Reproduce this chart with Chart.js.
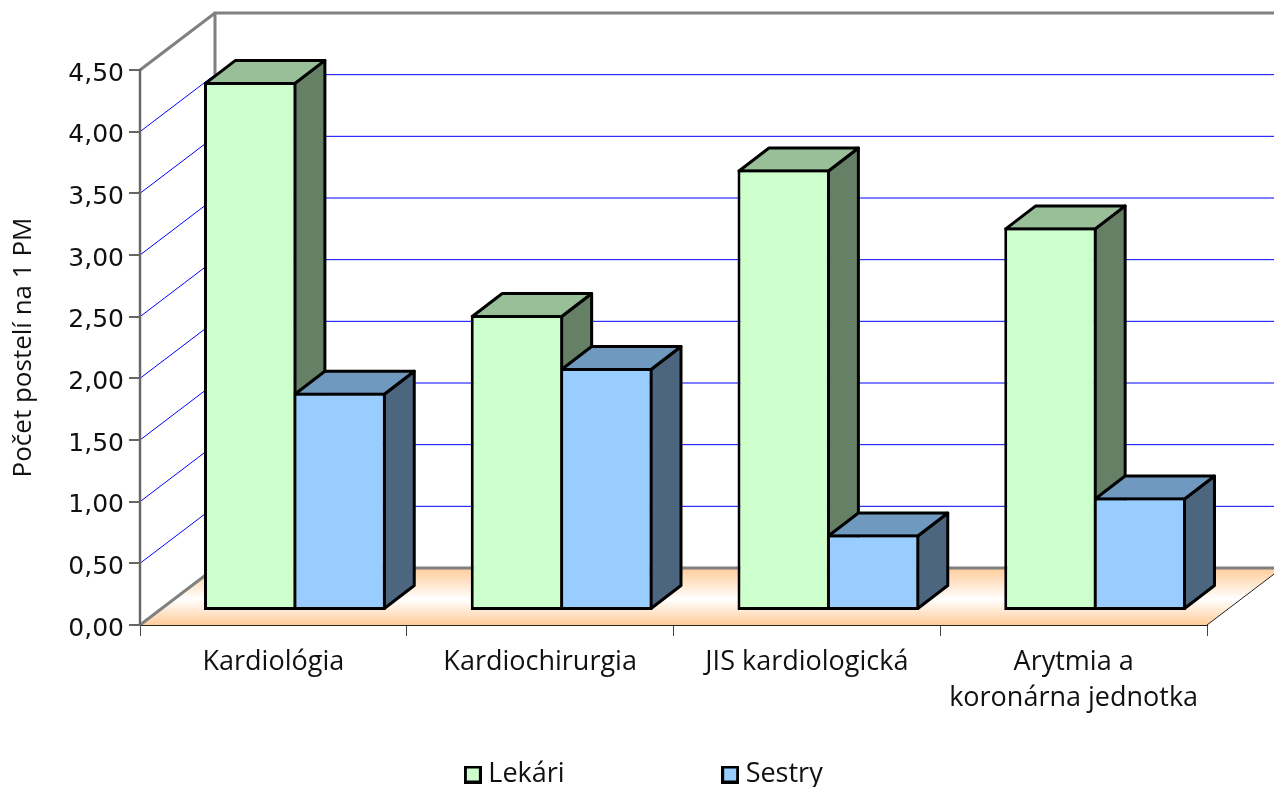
<!DOCTYPE html>
<html>
<head>
<meta charset="utf-8">
<style>html,body{margin:0;padding:0;background:#fff;overflow:hidden}#w{width:1274px;height:787px}</style>
<script src="https://cdn.jsdelivr.net/npm/chart.js@4"></script>
</head>
<body>
<div id="w"><canvas id="c" width="1274" height="787"></canvas></div>
<script>
const categories = ["Kardiológia", "Kardiochirurgia", "JIS kardiologická", ["Arytmia a", "koronárna jednotka"]];
const lekari = [4.29, 2.40, 3.58, 3.11];
const sestry = [1.77, 1.97, 0.62, 0.92];
const seriesNames = ["Lekári", "Sestry"];
const yAxisTitle = "Počet postelí na 1 PM";

const WALL = {dx: 75, dy: -57};
const BAR_OFFSET = {dx: 21.5, dy: -14};
const BAR_DEPTH = {dx: 30, dy: -23};
const FILLS = ['#CCFFCC', '#99CCFF'];
const SHADES = [{top: '#99BF99', side: '#668066'}, {top: '#7099BF', side: '#4D6680'}];
const LEGEND_PAD = 163.5;
const BW = 3;

function poly(ctx, pts, fill, stroke, lw) {
  ctx.beginPath();
  pts.forEach((p, i) => i ? ctx.lineTo(p[0], p[1]) : ctx.moveTo(p[0], p[1]));
  ctx.closePath();
  if (fill) { ctx.fillStyle = fill; ctx.fill(); }
  if (stroke) { ctx.strokeStyle = stroke; ctx.lineWidth = lw; ctx.lineJoin = 'round'; ctx.stroke(); }
}
function line(ctx, pts, color, lw) {
  ctx.beginPath();
  pts.forEach((p, i) => i ? ctx.lineTo(p[0], p[1]) : ctx.moveTo(p[0], p[1]));
  ctx.strokeStyle = color; ctx.lineWidth = lw; ctx.stroke();
}
function legendSwatch(fill) {
  const c = document.createElement('canvas');
  c.width = 18; c.height = 18;
  const g = c.getContext('2d');
  g.fillStyle = fill; g.fillRect(0, 0, 18, 18);
  g.strokeStyle = '#000'; g.lineWidth = 3; g.strokeRect(1.5, 1.5, 15, 15);
  return c;
}

const walls3d = {
  id: 'walls3d',
  afterLayout(chart) {
    const lg = chart.legend;
    lg.left = 19.5; lg.right = 1274;
    lg.top = 761 - LEGEND_PAD; lg.bottom = 787;
    const y = chart.scales.y;
    y.getLabelItems(chart.chartArea).forEach(it => {
      it.options.translation = [it.options.translation[0], it.options.translation[1] + 4];
    });
  },
  beforeDraw(chart) {
    const {ctx, scales: {x, y}} = chart;
    const L = x.left, R = x.right, Y0 = y.getPixelForValue(0), T = y.getPixelForValue(4.5);
    const d = WALL;
    ctx.save();
    const g = ctx.createLinearGradient(0, Y0 + d.dy, 0, Y0);
    g.addColorStop(0, '#FFCC99'); g.addColorStop(0.55, '#FFFFFF'); g.addColorStop(1, '#FFCC99');
    poly(ctx, [[L, Y0], [R, Y0], [R + d.dx, Y0 + d.dy], [L + d.dx, Y0 + d.dy]], g);
    line(ctx, [[R, Y0], [R + d.dx, Y0 + d.dy]], '#222', 1);
    y.ticks.forEach(t => {
      if (t.value <= 0 || t.value >= 4.5) return;
      const p = y.getPixelForValue(t.value);
      line(ctx, [[L, p], [L + d.dx, p + d.dy], [R + d.dx, p + d.dy]], '#0000FF', 1);
    });
    line(ctx, [[L + d.dx, Y0 + d.dy], [R + d.dx, Y0 + d.dy]], '#808080', 3);
    line(ctx, [[L, Y0], [L + d.dx, Y0 + d.dy], [L + d.dx, T + d.dy], [R + d.dx, T + d.dy]], '#808080', 3);
    line(ctx, [[L, T], [L + d.dx, T + d.dy]], '#808080', 3);
    line(ctx, [[L, T], [L, Y0]], '#777', 2.5);
    ctx.restore();
  },
  beforeDatasetsDraw(chart) {
    const ctx = chart.ctx;
    ctx.save();
    ctx.translate(BAR_OFFSET.dx, BAR_OFFSET.dy);
    const D = BAR_DEPTH, h = BW / 2;
    chart.data.datasets.forEach((ds, di) => {
      chart.getDatasetMeta(di).data.forEach(el => {
        const l = el.x - el.width / 2 + h, r = el.x + el.width / 2 - h, t = el.y + h, b = el.base - h;
        poly(ctx, [[r, t], [r + D.dx, t + D.dy], [r + D.dx, b + D.dy], [r, b]], SHADES[di].side, '#000', BW);
        poly(ctx, [[l, t], [l + D.dx, t + D.dy], [r + D.dx, t + D.dy], [r, t]], SHADES[di].top, '#000', BW);
      });
    });
  },
  afterDatasetsDraw(chart) { chart.ctx.restore(); }
};

const FONT = 'Open Sans';
new Chart(document.getElementById('c'), {
  type: 'bar',
  data: {
    labels: categories,
    datasets: [
      {label: seriesNames[0], data: lekari, backgroundColor: FILLS[0], borderColor: '#000', borderWidth: BW, borderSkipped: false, clip: false},
      {label: seriesNames[1], data: sestry, backgroundColor: FILLS[1], borderColor: '#000', borderWidth: BW, borderSkipped: false, clip: false}
    ]
  },
  plugins: [walls3d],
  options: {
    responsive: false,
    animation: false,
    layout: {padding: {left: 0, top: 70, right: 67, bottom: 0}},
    datasets: {bar: {categoryPercentage: 0.67, barPercentage: 1.034}},
    plugins: {
      tooltip: {enabled: false},
      legend: {
        position: 'bottom',
        maxHeight: 40,
        labels: {
          usePointStyle: true, pointStyleWidth: 4, boxHeight: 16,
          padding: LEGEND_PAD, color: '#111', font: {family: FONT, size: 27},
          generateLabels(chart) {
            return Chart.defaults.plugins.legend.labels.generateLabels(chart).map((it, i) => {
              it.pointStyle = legendSwatch(FILLS[i]);
              return it;
            });
          }
        }
      }
    },
    scales: {
      x: {
        afterFit(s) { s.height = 122; },
        grid: {drawOnChartArea: false, drawTicks: true, tickLength: 11, color: '#444', lineWidth: 1},
        border: {color: '#222', width: 1},
        ticks: {color: '#111', maxRotation: 0, minRotation: 0, padding: 8, font: {family: FONT, size: 27, lineHeight: 1.333}}
      },
      y: {
        min: 0, max: 4.5,
        afterFit(s) { s.width = 140; },
        grid: {drawOnChartArea: false, drawTicks: true, tickLength: 11, color: '#666', lineWidth: 2},
        border: {color: '#666', width: 2},
        title: {display: true, text: yAxisTitle, color: '#111', padding: {top: 8, bottom: 0}, font: {family: FONT, size: 26}},
        ticks: {stepSize: 0.5, color: '#111', padding: 5, font: {family: 'DejaVu Sans', size: 25},
          callback: v => v.toFixed(2).replace('.', ',')}
      }
    }
  }
});
</script>
</body>
</html>
